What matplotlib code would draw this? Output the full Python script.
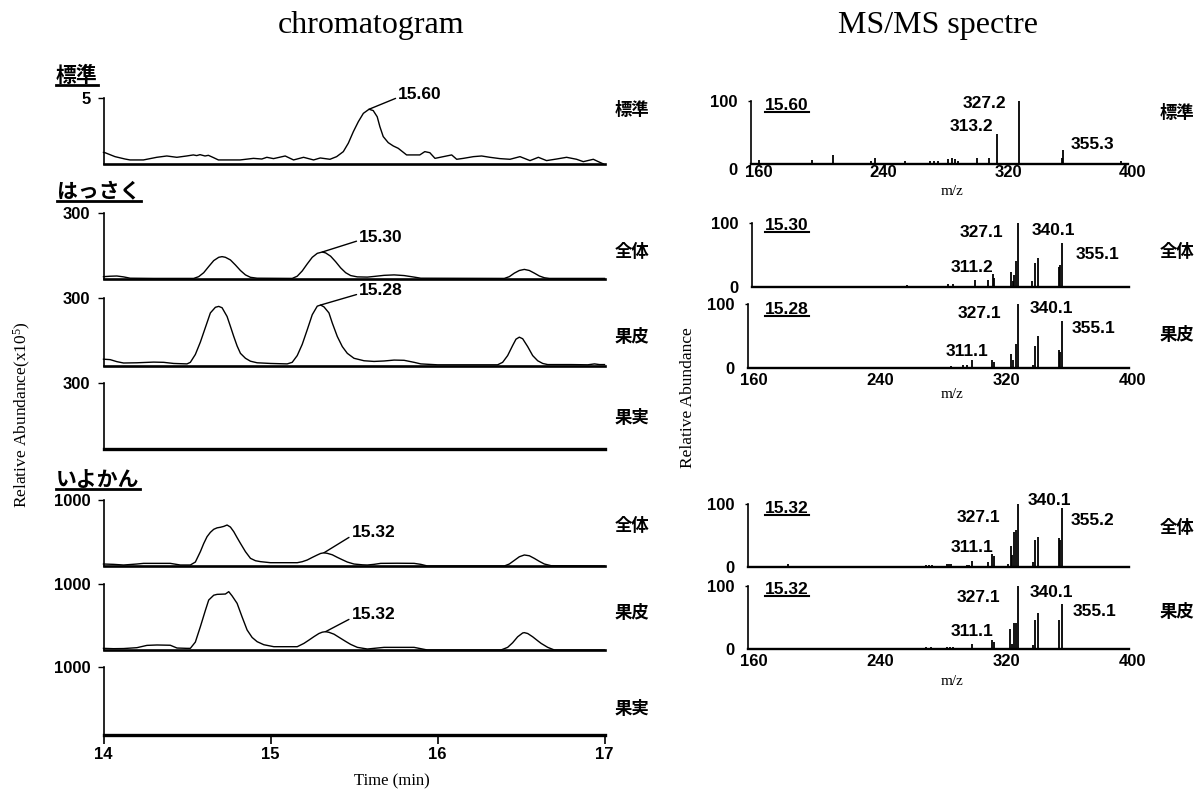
import matplotlib
matplotlib.use('Agg')
import matplotlib.pyplot as plt
from matplotlib.lines import Line2D
from matplotlib.transforms import ScaledTranslation

# ---------------- data ----------------
# chromatograms: time (min) / intensity
std_t = [14.00, 14.009, 14.069, 14.129, 14.159, 14.239, 14.319, 14.379, 14.439, 14.498, 14.538, 14.558,
         14.578, 14.608, 14.628, 14.658, 14.688, 14.818, 14.898, 14.948, 14.978, 15.018, 15.088, 15.138,
         15.198, 15.258, 15.298, 15.356, 15.396, 15.436, 15.466, 15.496, 15.526, 15.556, 15.590, 15.615,
         15.639, 15.655, 15.675, 15.705, 15.735, 15.765, 15.815, 15.894, 15.924, 15.954, 15.985, 16.035,
         16.085, 16.115, 16.155, 16.215, 16.264, 16.314, 16.374, 16.434, 16.494, 16.554, 16.604, 16.653,
         16.713, 16.773, 16.833, 16.873, 16.933, 16.963, 16.993]
std_v = [0.90, 0.88, 0.58, 0.40, 0.33, 0.33, 0.53, 0.63, 0.53, 0.63, 0.71, 0.66,
         0.73, 0.63, 0.68, 0.51, 0.33, 0.33, 0.45, 0.40, 0.53, 0.43, 0.63, 0.33,
         0.53, 0.33, 0.48, 0.38, 0.58, 0.96, 1.6, 2.47, 3.23, 3.86, 4.17, 4.07,
         3.6, 2.85, 2.1, 1.64, 1.39, 1.21, 0.71, 0.71, 0.96, 0.88, 0.45, 0.58,
         0.71, 0.38, 0.45, 0.58, 0.63, 0.53, 0.43, 0.38, 0.58, 0.28, 0.53, 0.28,
         0.40, 0.53, 0.38, 0.20, 0.38, 0.20, 0.03]

hk_all_t = [14.00, 14.04, 14.08, 14.12, 14.16, 14.30, 14.54, 14.57, 14.60, 14.63, 14.66, 14.69, 14.71,
            14.73, 14.76, 14.79, 14.82, 14.85, 14.88, 14.92, 15.13, 15.16, 15.19, 15.22, 15.25, 15.28,
            15.31, 15.33, 15.36, 15.39, 15.42, 15.45, 15.48, 15.52, 15.58, 15.62, 15.68, 15.74, 15.80,
            15.86, 15.90, 16.40, 16.43, 16.46, 16.49, 16.52, 16.55, 16.58, 16.61, 16.64, 16.67, 17.00]
hk_all_v = [12, 14, 15, 11, 5, 4, 4, 12, 30, 58, 85, 100, 103,
            100, 88, 65, 40, 20, 9, 5, 4, 14, 38, 70, 100, 118,
            124, 120, 105, 80, 52, 30, 17, 11, 10, 13, 18, 20, 17,
            10, 5, 4, 12, 28, 40, 45, 40, 28, 15, 7, 4, 4]

hk_peel_t = [14.00, 14.04, 14.08, 14.12, 14.20, 14.30, 14.36, 14.42, 14.50, 14.52, 14.55, 14.58, 14.61,
             14.64, 14.67, 14.69, 14.71, 14.74, 14.76, 14.78, 14.80, 14.82, 14.85, 14.88, 14.92, 15.00,
             15.10, 15.13, 15.16, 15.19, 15.22, 15.25, 15.28, 15.30, 15.32, 15.35, 15.37, 15.40, 15.43,
             15.46, 15.50, 15.56, 15.62, 15.68, 15.74, 15.80, 15.86, 15.90, 16.00, 16.36, 16.39, 16.42,
             16.45, 16.47, 16.49, 16.51, 16.54, 16.57, 16.60, 16.63, 16.66, 16.80, 16.90, 16.94, 16.97,
             17.00]
hk_peel_v = [29, 27, 18, 12, 13, 16, 15, 10, 8, 15, 50, 105, 170,
             235, 260, 264, 258, 219, 175, 130, 88, 55, 33, 20, 13, 10,
             8, 15, 45, 95, 160, 227, 265, 270, 262, 235, 190, 130, 85,
             55, 33, 22, 19, 21, 25, 24, 15, 8, 4, 4, 15, 45,
             90, 118, 127, 120, 85, 45, 22, 10, 5, 5, 4, 8, 5,
             5]

iy_all_t = [14.00, 14.06, 14.12, 14.20, 14.24, 14.40, 14.46, 14.52, 14.55, 14.58, 14.60, 14.62, 14.64,
            14.66, 14.68, 14.70, 14.72, 14.74, 14.76, 14.78, 14.80, 14.82, 14.85, 14.88, 14.91, 14.94,
            15.00, 15.16, 15.19, 15.22, 15.25, 15.28, 15.30, 15.32, 15.34, 15.37, 15.40, 15.43, 15.46,
            15.50, 15.55, 15.58, 15.62, 15.66, 15.76, 15.86, 15.90, 15.94, 16.40, 16.43, 16.46, 16.49,
            16.52, 16.55, 16.58, 16.61, 16.64, 16.68, 17.00]
iy_all_v = [30, 25, 15, 30, 40, 40, 15, 15, 60, 217, 340, 444, 510,
            556, 578, 587, 600, 621, 590, 520, 430, 343, 217, 116, 80, 66,
            50, 50, 65, 91, 130, 167, 190, 200, 192, 170, 131, 95, 60,
            30, 18, 15, 25, 40, 42, 40, 25, 0, 0, 30, 85, 140,
            167, 155, 115, 70, 30, 5, 0]

iy_peel_t = [14.00, 14.06, 14.12, 14.20, 14.26, 14.32, 14.40, 14.44, 14.50, 14.52, 14.55, 14.58, 14.61,
             14.63, 14.66, 14.68, 14.73, 14.75, 14.77, 14.80, 14.83, 14.86, 14.89, 14.92, 14.96, 15.02,
             15.16, 15.20, 15.23, 15.26, 15.29, 15.31, 15.33, 15.35, 15.38, 15.42, 15.45, 15.48, 15.52,
             15.58, 15.64, 15.68, 15.86, 15.94, 16.38, 16.42, 16.45, 16.48, 16.51, 16.52, 16.54, 16.57,
             16.60, 16.62, 16.66, 16.70, 17.00]
iy_peel_v = [25, 20, 22, 35, 70, 76, 72, 30, 25, 25, 120, 353, 600,
             757, 830, 843, 848, 884, 820, 707, 500, 303, 190, 126, 80, 50,
             50, 100, 150, 202, 250, 270, 278, 268, 240, 177, 130, 85, 40,
             15, 30, 40, 40, 0, 0, 40, 110, 200, 258, 263, 250, 200,
             140, 101, 40, 0, 0]

fruit_t = [14.0, 17.0]
fruit_v = [0, 0]

chrom_ymax = [5, 300, 300, 300, 1000, 1000, 1000]
chrom_names = ['標準', '全体', '果皮', '果実', '全体', '果皮', '果実']
chrom_peaks = [(15.59, 4.17, '15.60'), (15.31, 124, '15.30'), (15.30, 270, '15.28'), None,
               (15.32, 200, '15.32'), (15.33, 278, '15.32'), None]
time_ticks = [14, 15, 16, 17]

# MS/MS spectra: m/z / relative abundance
ms1_mz = [160.1, 194, 207.4, 231.8, 234.6, 253.8, 269.9, 272.7, 275.2, 281.6, 283.8, 285.9, 288,
          299.9, 308, 313.2, 327.2, 354.3, 355.3, 370.9, 392.3]
ms1_int = [6, 6, 14, 4, 10, 4, 4, 4, 4, 8, 10, 8, 4, 9, 10, 48, 100, 9, 22, 2, 4]

ms2_mz = [175, 200, 215, 230, 256.7, 270, 283, 286, 300, 308.2, 311.2, 312.2, 322.7, 323.8, 324.9,
          326, 327.1, 336.4, 338.2, 340.1, 353.1, 354.1, 355.1, 370, 385]
ms2_int = [1, 1, 1, 1, 3.6, 2, 5, 5, 11, 11, 21, 14, 24, 9, 19, 40, 100, 10, 37, 45, 32, 35, 68, 2, 1]

ms3_mz = [190, 230, 260, 285, 292.2, 294.9, 298.2, 311.1, 312.1, 322.7, 324.4, 326, 327.1, 336.7,
          338.2, 340.1, 353.1, 354.1, 355.1, 375]
ms3_int = [1, 1, 1, 2, 4, 4, 12, 12, 9, 22, 12, 38, 100, 4, 34, 50, 28, 25, 74, 1]

ms4_mz = [181.6, 214, 222.6, 244, 258.8, 269, 271, 273, 282, 283.5, 285, 294.8, 296.5, 298.2, 308.2,
          311.1, 312.1, 321.1, 322.7, 323.8, 324.9, 326, 327.1, 336.7, 338.2, 340.1, 353.2, 354.2,
          355.2, 368.8, 387.8]
ms4_int = [5, 2, 2, 2, 2, 4, 4, 4, 5, 5, 5, 4, 4, 10, 9, 21, 18, 6, 33, 19, 56, 59, 100, 9, 43, 48,
           46, 43, 93, 2, 2]

ms5_mz = [200, 240, 269, 272, 282, 284, 286, 294, 298.2, 311.1, 312.1, 322.2, 323.8, 324.9, 326,
          327.1, 336.7, 338.2, 340.1, 353.1, 355.1, 380]
ms5_int = [1, 1, 4, 4, 4, 4, 4, 2, 9, 15, 12, 32, 9, 41, 42, 100, 7, 47, 58, 46, 72, 1]

ms_rt = ['15.60', '15.30', '15.28', '15.32', '15.32']
ms_names = ['標準', '全体', '果皮', '全体', '果皮']
ms_ticks = [160, 240, 320, 400]
# labelled peaks: (m/z, abundance, label)
ms_peaks = [
    [(327.2, 100, '327.2'), (313.2, 48, '313.2'), (355.3, 22, '355.3')],
    [(327.1, 100, '327.1'), (340.1, 45, '340.1'), (355.1, 68, '355.1'), (311.2, 21, '311.2')],
    [(327.1, 100, '327.1'), (340.1, 50, '340.1'), (355.1, 74, '355.1'), (311.1, 12, '311.1')],
    [(327.1, 100, '327.1'), (340.1, 48, '340.1'), (355.2, 93, '355.2'), (311.1, 21, '311.1')],
    [(327.1, 100, '327.1'), (340.1, 58, '340.1'), (355.1, 72, '355.1'), (311.1, 15, '311.1')],
]

# ---------------- layout / styling ----------------
W, H = 1198, 794
plt.rcParams['font.family'] = ['Liberation Sans', 'Noto Sans CJK JP']
plt.rcParams['mathtext.fontset'] = 'custom'
plt.rcParams['mathtext.rm'] = 'Liberation Serif'
plt.rcParams['mathtext.it'] = 'Liberation Serif:italic'
plt.rcParams['mathtext.bf'] = 'Liberation Serif:bold'

fig = plt.figure(figsize=(W / 100, H / 100), dpi=100)
JP = ['Noto Sans CJK JP', 'DejaVu Sans']
SERIF = ['Liberation Serif']
PT = 0.72  # points per pixel at 100 dpi


def px_axes(left, top, right, bottom):
    return fig.add_axes([left / W, 1 - bottom / H, (right - left) / W, (bottom - top) / H])


underline_texts = []

# titles
fig.text(371 / W, 1 - 25 / H, 'chromatogram', ha='center', va='center', fontsize=23, family=SERIF)
fig.text(938 / W, 1 - 25 / H, 'MS/MS spectre', ha='center', va='center', fontsize=23, family=SERIF)

# section labels
for lab, (x, y) in [('標準', (56, 75)), ('はっさく', (57, 191)), ('いよかん', (56, 479))]:
    t = fig.text(x / W, 1 - y / H, lab, ha='left', va='center', fontsize=15, fontweight='bold', family=JP)
    underline_texts.append((t, 2.0))

# ---------------- chromatograms ----------------
chrom_data = [(std_t, std_v), (hk_all_t, hk_all_v), (hk_peel_t, hk_peel_v), (fruit_t, fruit_v),
              (iy_all_t, iy_all_v), (iy_peel_t, iy_peel_v), (fruit_t, fruit_v)]
chrom_boxes = [(98.3, 164.3), (213.3, 279.3), (298.3, 365.7), (382.7, 449.3),
               (500, 566), (584, 650), (667.3, 735)]
chrom_label_y = [0.82, 0.42, 0.43, 0.465, 0.60, 0.556, 0.39]
peak_offsets = [(29.3, 15), (37, 14.7), (38.7, 14.3), None, (27.8, 20.1), (26.1, 16.7), None]
CL, CR = 103.5, 604.5

for i, ((tt, vv), (top, bot)) in enumerate(zip(chrom_data, chrom_boxes)):
    ax = px_axes(CL, top, CR, bot)
    fruit = (i in (3, 6))
    ax.plot(tt, vv, color='black', lw=2.4 if fruit else 1.0, clip_on=False, solid_joinstyle='round')
    ax.set_xlim(14, 17)
    ax.set_ylim(0, chrom_ymax[i])
    for s in ('top', 'right'):
        ax.spines[s].set_visible(False)
    ax.spines['left'].set_linewidth(1.2)
    ax.spines['bottom'].set_linewidth(1.9)
    ax.set_yticks([chrom_ymax[i]])
    ax.set_yticklabels([str(chrom_ymax[i])])
    ax.tick_params(axis='y', direction='out', length=4.5, width=1.0, pad=5,
                   labelsize=12, labelcolor='black')
    for lb in ax.get_yticklabels():
        lb.set_fontweight('bold')
    if i == 6:
        ax.set_xticks(time_ticks)
        ax.set_xticklabels([str(v) for v in time_ticks])
        ax.tick_params(axis='x', direction='out', length=6.5, width=1.2, pad=2, labelsize=12)
        for lb in ax.get_xticklabels():
            lb.set_fontweight('bold')
    else:
        ax.set_xticks([])
    ax.text(1.021, chrom_label_y[i], chrom_names[i], transform=ax.transAxes, ha='left', va='center',
            fontsize=12.5, fontweight='bold', family=JP)
    if chrom_peaks[i] is not None:
        pt, pv, plab = chrom_peaks[i]
        dx, dy = peak_offsets[i]
        ax.annotate(plab, xy=(pt, pv), xytext=(dx * PT, dy * PT), textcoords='offset points',
                    ha='left', va='center', fontsize=12.5, fontweight='bold',
                    arrowprops=dict(arrowstyle='-', lw=1.0, color='black', shrinkA=0, shrinkB=0,
                                    relpos=(0, 0.3)))

fig.text(392 / W, 1 - 781 / H, 'Time (min)', ha='center', va='center', fontsize=12, family=SERIF)
fig.text(22 / W, 1 - 415 / H, 'Relative Abundance(x10$^{5}$)', ha='center', va='center',
         rotation=90, fontsize=12.5, family=SERIF)

# ---------------- MS/MS spectra ----------------
ms_data = [(ms1_mz, ms1_int), (ms2_mz, ms2_int), (ms3_mz, ms3_int), (ms4_mz, ms4_int), (ms5_mz, ms5_int)]
ms_boxes = [(751, 100.7, 1132.7, 164), (751.7, 222.7, 1132.6, 287.3), (748, 304.3, 1132.5, 367.7),
            (748, 504, 1132.5, 567.3), (748, 586, 1132.5, 649.3)]
ms_xlims = [(155, 400), (158.3, 400), (156, 400), (156, 400), (156, 400)]
ms_spine_end = [397, 398, 398, 398, 398]
ms_show_x = [True, False, True, False, True]
ms_xlabel_y = [-0.442, None, -0.43, None, -0.51]
ms_rt_y = [0.932, 0.949, 0.92, 0.932, 0.937]
ms_name_y = [0.80, 0.55, 0.516, 0.616, 0.594]
# label offsets from the peak tip in pixels (dx, dy up) and alignment
ms_label_off = [
    [(-13.3, -2.6, 'right'), (-4.5, 7.6, 'right'), (7.7, 5.7, 'left')],
    [(-14.7, -9.6, 'right'), (-6.5, 28.2, 'left'), (14.1, -10.9, 'left'), (0.6, 6.4, 'right')],
    [(-16, -9, 'right'), (-8.1, 27.7, 'left'), (9.9, -8.2, 'left'), (-4.1, 8.4, 'right')],
    [(-17, -13.3, 'right'), (-10.1, 36.2, 'left'), (8.8, -12.3, 'left'), (0.6, 6.7, 'right')],
    [(-17, -11.3, 'right'), (-8.1, 20.3, 'left'), (11.2, -8, 'left'), (0.6, 8.1, 'right')],
]

for i, ((mz, it), (l, t, r, b)) in enumerate(zip(ms_data, ms_boxes)):
    ax = px_axes(l, t, r, b)
    ax.vlines(mz, 0, it, colors='black', lw=1.3)
    ax.set_xlim(*ms_xlims[i])
    ax.set_ylim(0, 100)
    for s in ('top', 'right'):
        ax.spines[s].set_visible(False)
    ax.spines['left'].set_linewidth(1.2)
    ax.spines['bottom'].set_linewidth(1.7)
    ax.spines['bottom'].set_bounds(ms_xlims[i][0], ms_spine_end[i])
    ax.set_yticks([0, 100])
    ax.set_yticklabels(['0', '100'])
    ax.tick_params(axis='y', direction='out', length=2.5, width=1.0, pad=7, labelsize=12)
    ax.yaxis.get_major_ticks()[0].tick1line.set_visible(False)
    for lb in ax.get_yticklabels():
        lb.set_fontweight('bold')
    if i == 0:
        lb0 = ax.get_yticklabels()[0]
        lb0.set_transform(lb0.get_transform() + ScaledTranslation(0, -5 / 100, fig.dpi_scale_trans))
    if ms_show_x[i]:
        ax.set_xticks(ms_ticks)
        ax.set_xticklabels([str(v) for v in ms_ticks])
        ax.tick_params(axis='x', length=0, pad=1 if i == 0 else 3.5, labelsize=12)
        for lb in ax.get_xticklabels():
            lb.set_fontweight('bold')
        ax.set_xlabel('m/z', family=SERIF, fontsize=11)
        ax.xaxis.set_label_coords((951.7 - l) / (r - l), ms_xlabel_y[i])
        ax.xaxis.label.set_va('center')
    else:
        ax.set_xticks([])
    rt = ax.text((765 - l) / (r - l), ms_rt_y[i], ms_rt[i], transform=ax.transAxes, ha='left',
                 va='center', fontsize=12.5, fontweight='bold')
    underline_texts.append((rt, 1.5))
    ax.text((1160 - l) / (r - l), ms_name_y[i], ms_names[i], transform=ax.transAxes, ha='left',
            va='center', fontsize=12.5, fontweight='bold', family=JP)
    for (pm, pi, plab), (dx, dy, ha) in zip(ms_peaks[i], ms_label_off[i]):
        ax.annotate(plab, xy=(pm, pi), xytext=(dx * PT, dy * PT), textcoords='offset points',
                    ha=ha, va='center', fontsize=12.5, fontweight='bold')

fig.text(688 / W, 1 - 398 / H, 'Relative Abundance', ha='center', va='center', rotation=90,
         fontsize=12.5, family=SERIF)

# underline the underlined labels
fig.canvas.draw()
renderer = fig.canvas.get_renderer()
for txt, lw in underline_texts:
    bb = txt.get_window_extent(renderer)
    y = bb.y0 + 1
    fig.add_artist(Line2D([bb.x0 / W, bb.x1 / W], [y / H, y / H], transform=fig.transFigure,
                          color='black', lw=lw))

fig.savefig('out.png', dpi=100)
